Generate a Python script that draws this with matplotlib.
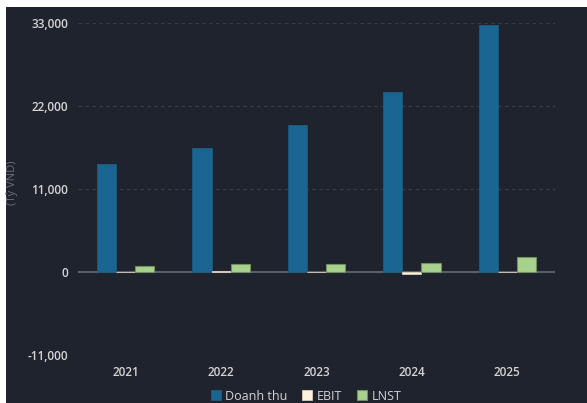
import numpy as np
import matplotlib.pyplot as plt
from matplotlib.patches import Rectangle
from matplotlib.ticker import FuncFormatter

# du lieu
nam = ['2021', '2022', '2023', '2024', '2025']
doanh_thu = [14300, 16500, 19500, 23900, 32800]
ebit = [40, 90, 20, -250, 20]
lnst = [750, 1030, 1030, 1200, 1930]
y_ticks = [-11000, 0, 11000, 22000, 33000]

bg = '#1f232d'
txt = '#d4d4d4'

plt.rcParams['font.family'] = ['Open Sans', 'DejaVu Sans']

fig = plt.figure(figsize=(5.87, 4.03), dpi=100)
fig.patch.set_facecolor('white')
# panel toi
fig.patches.append(Rectangle((6 / 587, 0), 1 - 6 / 587, 1 - 7 / 403,
                             transform=fig.transFigure, facecolor=bg,
                             edgecolor='none', zorder=-5))

ax = fig.add_axes([78 / 587, 48 / 403, (555 - 78) / 587, (355 - 23) / 403])
ax.set_facecolor(bg)

x = np.arange(len(nam))
w = 0.2
ax.bar(x - w, doanh_thu, w, color='#1b6593', edgecolor='#1f5a80', linewidth=0.6,
       label='Doanh thu', zorder=3)
ax.bar(x, ebit, w, color='#fdf3dc', edgecolor='#d8d0bc', linewidth=0.6,
       label='EBIT', zorder=3)
ax.bar(x + w, lnst, w, color='#a9d18e', edgecolor='#6f8f60', linewidth=0.8,
       label='LNST', zorder=3)

ax.set_xlim(-0.5, 4.5)
ax.set_ylim(-11000, 33000)
ax.set_yticks(y_ticks)
ax.yaxis.set_major_formatter(FuncFormatter(lambda v, p: f'{int(v):,}'))
ax.set_xticks(x)
ax.set_xticklabels(nam)

for v in y_ticks:
    if v == 0:
        ax.axhline(0, color='#5a5e66', linewidth=1.5, zorder=2)
    else:
        ax.axhline(v, color='#363b46', linewidth=0.9, linestyle=(0, (3, 2.5)), zorder=1)

for s in ax.spines.values():
    s.set_visible(False)
ax.tick_params(axis='both', length=0, colors=txt, labelsize=8.5)
ax.tick_params(axis='y', pad=7)
ax.tick_params(axis='x', pad=8)
for lb in ax.get_xticklabels() + ax.get_yticklabels():
    lb.set_fontweight('semibold')

fig.text(12 / 587, 1 - 183 / 403, '(Tỷ VND)', rotation=90, color='#6b6f78',
         fontsize=8, ha='center', va='center')

leg = fig.legend(*ax.get_legend_handles_labels(), loc='center',
                 bbox_to_anchor=(306 / 587, 1 - 396 / 403), ncol=3,
                 frameon=False, fontsize=9, handlelength=0.8, handleheight=0.8,
                 handletextpad=0.35, columnspacing=1.2, labelcolor=txt,
                 borderaxespad=0, borderpad=0)

fig.savefig('out.png', dpi=100, facecolor=fig.get_facecolor())
